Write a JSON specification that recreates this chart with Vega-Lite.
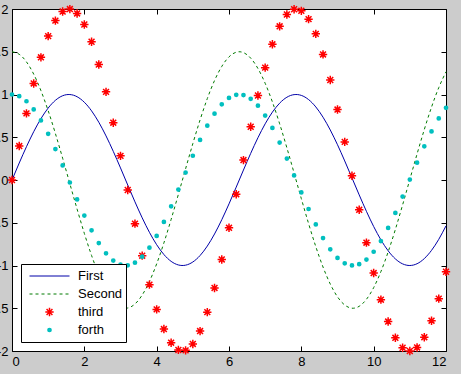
{
  "$schema": "https://vega.github.io/schema/vega-lite/v6.json",
  "autosize": {"type": "none"},
  "padding": {"left": 12, "top": 9, "right": 15, "bottom": 23},
  "width": 434,
  "height": 342,
  "background": "#cccccc",
  "config": {
    "view": {"stroke": "black", "strokeWidth": 1, "fill": "white"},
    "axis": {"domain": false, "grid": false, "tickColor": "black", "tickSize": -5, "labelFont": "Liberation Sans", "labelFontSize": 13, "labelColor": "black"}
  },
  "data": {"values": [
    {"x": 0.0, "First": 0, "Second": 1.5, "third": 0, "forth": 1},
    {"x": 0.2, "First": 0.1987, "Second": 1.4701, "third": 0.3973, "forth": 0.9801},
    {"x": 0.4, "First": 0.3894, "Second": 1.3816, "third": 0.7788, "forth": 0.9211},
    {"x": 0.6, "First": 0.5646, "Second": 1.2380, "third": 1.1293, "forth": 0.8253},
    {"x": 0.8, "First": 0.7174, "Second": 1.0451, "third": 1.4347, "forth": 0.6967},
    {"x": 1.0, "First": 0.8415, "Second": 0.8105, "third": 1.6829, "forth": 0.5403},
    {"x": 1.2, "First": 0.9320, "Second": 0.5435, "third": 1.8641, "forth": 0.3624},
    {"x": 1.4, "First": 0.9854, "Second": 0.2550, "third": 1.9709, "forth": 0.1700},
    {"x": 1.6, "First": 0.9996, "Second": -0.0438, "third": 1.9991, "forth": -0.0292},
    {"x": 1.8, "First": 0.9738, "Second": -0.3408, "third": 1.9477, "forth": -0.2272},
    {"x": 2.0, "First": 0.9093, "Second": -0.6242, "third": 1.8186, "forth": -0.4161},
    {"x": 2.2, "First": 0.8085, "Second": -0.8828, "third": 1.6170, "forth": -0.5885},
    {"x": 2.4, "First": 0.6755, "Second": -1.1061, "third": 1.3509, "forth": -0.7374},
    {"x": 2.6, "First": 0.5155, "Second": -1.2853, "third": 1.0310, "forth": -0.8569},
    {"x": 2.8, "First": 0.3350, "Second": -1.4133, "third": 0.6700, "forth": -0.9422},
    {"x": 3.0, "First": 0.1411, "Second": -1.4850, "third": 0.2822, "forth": -0.9900},
    {"x": 3.2, "First": -0.0584, "Second": -1.4974, "third": -0.1167, "forth": -0.9983},
    {"x": 3.4, "First": -0.2555, "Second": -1.4502, "third": -0.5110, "forth": -0.9668},
    {"x": 3.6, "First": -0.4425, "Second": -1.3451, "third": -0.8850, "forth": -0.8968},
    {"x": 3.8, "First": -0.6119, "Second": -1.1865, "third": -1.2238, "forth": -0.7910},
    {"x": 4.0, "First": -0.7568, "Second": -0.9805, "third": -1.5136, "forth": -0.6536},
    {"x": 4.2, "First": -0.8716, "Second": -0.7354, "third": -1.7432, "forth": -0.4903},
    {"x": 4.4, "First": -0.9516, "Second": -0.4609, "third": -1.9032, "forth": -0.3073},
    {"x": 4.6, "First": -0.9937, "Second": -0.1683, "third": -1.9874, "forth": -0.1122},
    {"x": 4.8, "First": -0.9962, "Second": 0.1312, "third": -1.9923, "forth": 0.0875},
    {"x": 5.0, "First": -0.9589, "Second": 0.4255, "third": -1.9178, "forth": 0.2837},
    {"x": 5.2, "First": -0.8835, "Second": 0.7028, "third": -1.7670, "forth": 0.4685},
    {"x": 5.4, "First": -0.7728, "Second": 0.9520, "third": -1.5455, "forth": 0.6347},
    {"x": 5.6, "First": -0.6313, "Second": 1.1634, "third": -1.2625, "forth": 0.7756},
    {"x": 5.8, "First": -0.4646, "Second": 1.3282, "third": -0.9292, "forth": 0.8855},
    {"x": 6.0, "First": -0.2794, "Second": 1.4402, "third": -0.5588, "forth": 0.9602},
    {"x": 6.2, "First": -0.0831, "Second": 1.4948, "third": -0.1663, "forth": 0.9965},
    {"x": 6.4, "First": 0.1165, "Second": 1.4898, "third": 0.2330, "forth": 0.9932},
    {"x": 6.6, "First": 0.3115, "Second": 1.4253, "third": 0.6230, "forth": 0.9502},
    {"x": 6.8, "First": 0.4941, "Second": 1.3041, "third": 0.9883, "forth": 0.8694},
    {"x": 7.0, "First": 0.6570, "Second": 1.1309, "third": 1.3140, "forth": 0.7539},
    {"x": 7.2, "First": 0.7937, "Second": 0.9126, "third": 1.5874, "forth": 0.6084},
    {"x": 7.4, "First": 0.8987, "Second": 0.6578, "third": 1.7974, "forth": 0.4385},
    {"x": 7.6, "First": 0.9679, "Second": 0.3770, "third": 1.9358, "forth": 0.2513},
    {"x": 7.8, "First": 0.9985, "Second": 0.0810, "third": 1.9971, "forth": 0.0540},
    {"x": 8.0, "First": 0.9894, "Second": -0.2183, "third": 1.9787, "forth": -0.1455},
    {"x": 8.2, "First": 0.9407, "Second": -0.5088, "third": 1.8814, "forth": -0.3392},
    {"x": 8.4, "First": 0.8546, "Second": -0.7790, "third": 1.7091, "forth": -0.5193},
    {"x": 8.6, "First": 0.7344, "Second": -1.0181, "third": 1.4688, "forth": -0.6787},
    {"x": 8.8, "First": 0.5849, "Second": -1.2167, "third": 1.1698, "forth": -0.8111},
    {"x": 9.0, "First": 0.4121, "Second": -1.3667, "third": 0.8242, "forth": -0.9111},
    {"x": 9.2, "First": 0.2229, "Second": -1.4622, "third": 0.4459, "forth": -0.9748},
    {"x": 9.4, "First": 0.0248, "Second": -1.4995, "third": 0.0496, "forth": -0.9997},
    {"x": 9.6, "First": -0.1743, "Second": -1.4771, "third": -0.3485, "forth": -0.9847},
    {"x": 9.8, "First": -0.3665, "Second": -1.3956, "third": -0.7330, "forth": -0.9304},
    {"x": 10.0, "First": -0.5440, "Second": -1.2586, "third": -1.0880, "forth": -0.8391},
    {"x": 10.2, "First": -0.6999, "Second": -1.0715, "third": -1.3998, "forth": -0.7143},
    {"x": 10.4, "First": -0.8278, "Second": -0.8415, "third": -1.6556, "forth": -0.5610},
    {"x": 10.6, "First": -0.9228, "Second": -0.5780, "third": -1.8456, "forth": -0.3853},
    {"x": 10.8, "First": -0.9809, "Second": -0.2915, "third": -1.9618, "forth": -0.1943},
    {"x": 11.0, "First": -1.0000, "Second": 0.0066, "third": -2.0000, "forth": 0.0044},
    {"x": 11.2, "First": -0.9792, "Second": 0.3045, "third": -1.9585, "forth": 0.2030},
    {"x": 11.4, "First": -0.9193, "Second": 0.5903, "third": -1.8386, "forth": 0.3935},
    {"x": 11.6, "First": -0.8228, "Second": 0.8525, "third": -1.6456, "forth": 0.5683},
    {"x": 11.8, "First": -0.6938, "Second": 1.0803, "third": -1.3876, "forth": 0.7202},
    {"x": 12.0, "First": -0.5366, "Second": 1.2658, "third": -1.0731, "forth": 0.8439}
  ]},
  "resolve": {"axis": {"x": "independent", "y": "independent"}},
  "layer": [
    {
      "mark": {"type": "line", "interpolate": "natural", "strokeWidth": 1, "color": "#0000a8"},
      "encoding": {
        "x": {"field": "x", "type": "quantitative", "scale": {"domain": [0, 12], "nice": false}, "axis": {"orient": "bottom", "title": null, "values": [0, 2, 4, 6, 8, 10, 12], "labelPadding": 9}},
        "y": {"field": "First", "type": "quantitative", "scale": {"domain": [-2, 2], "nice": false}, "axis": {"orient": "left", "title": null, "values": [-2, -1.5, -1, -0.5, 0, 0.5, 1, 1.5, 2], "labelExpr": "'' + datum.value", "labelPadding": 9}}
      }
    },
    {
      "mark": {"type": "line", "interpolate": "natural", "strokeWidth": 1, "color": "#007a00", "strokeDash": [3, 3]},
      "encoding": {
        "x": {"field": "x", "type": "quantitative", "scale": {"domain": [0, 12], "nice": false}, "axis": {"orient": "top", "title": null, "values": [0, 2, 4, 6, 8, 10, 12], "labels": false}},
        "y": {"field": "Second", "type": "quantitative", "scale": {"domain": [-2, 2], "nice": false}, "axis": {"orient": "right", "title": null, "values": [-2, -1.5, -1, -0.5, 0, 0.5, 1, 1.5, 2], "labels": false}}
      }
    },
    {
      "transform": [{"fold": ["third", "forth"], "as": ["series", "val"]}],
      "mark": {"type": "point", "filled": false, "opacity": 1},
      "encoding": {
        "x": {"field": "x", "type": "quantitative", "scale": {"domain": [0, 12], "nice": false}, "axis": null},
        "y": {"field": "val", "type": "quantitative", "scale": {"domain": [-2, 2], "nice": false}, "axis": null},
        "color": {"field": "series", "type": "nominal",
          "scale": {"domain": ["First", "Second", "third", "forth"], "range": ["#0000a8", "#007a00", "#ff0000", "#00bfbf"]},
          "legend": {
            "title": null, "orient": "bottom-left", "offset": 9, "padding": 3,
            "strokeColor": "black", "fillColor": "white", "cornerRadius": 0,
            "labelFont": "Liberation Sans", "labelFontSize": 13, "labelColor": "black", "labelOffset": 8,
            "symbolOffset": 5, "columns": 1, "clipHeight": 18, "rowPadding": 0
          }},
        "shape": {"field": "series", "type": "nominal",
          "scale": {"domain": ["First", "Second", "third", "forth"], "range": ["M-1,0L1,0", "M-1,0L-0.85,0M-0.7,0L-0.55,0M-0.4,0L-0.25,0M-0.1,0L0.05,0M0.2,0L0.35,0M0.5,0L0.65,0M0.8,0L0.95,0", "M-1,0L1,0M0,-1L0,1M-0.7,-0.7L0.7,0.7M-0.7,0.7L0.7,-0.7", "circle"]}},
        "size": {"field": "series", "type": "nominal",
          "scale": {"type": "ordinal", "domain": ["First", "Second", "third", "forth"], "range": [1600, 1600, 70, 5]}},
        "strokeWidth": {"field": "series", "type": "nominal",
          "scale": {"type": "ordinal", "domain": ["First", "Second", "third", "forth"], "range": [1, 1, 1.5, 2.5]}}
      }
    }
  ]
}
